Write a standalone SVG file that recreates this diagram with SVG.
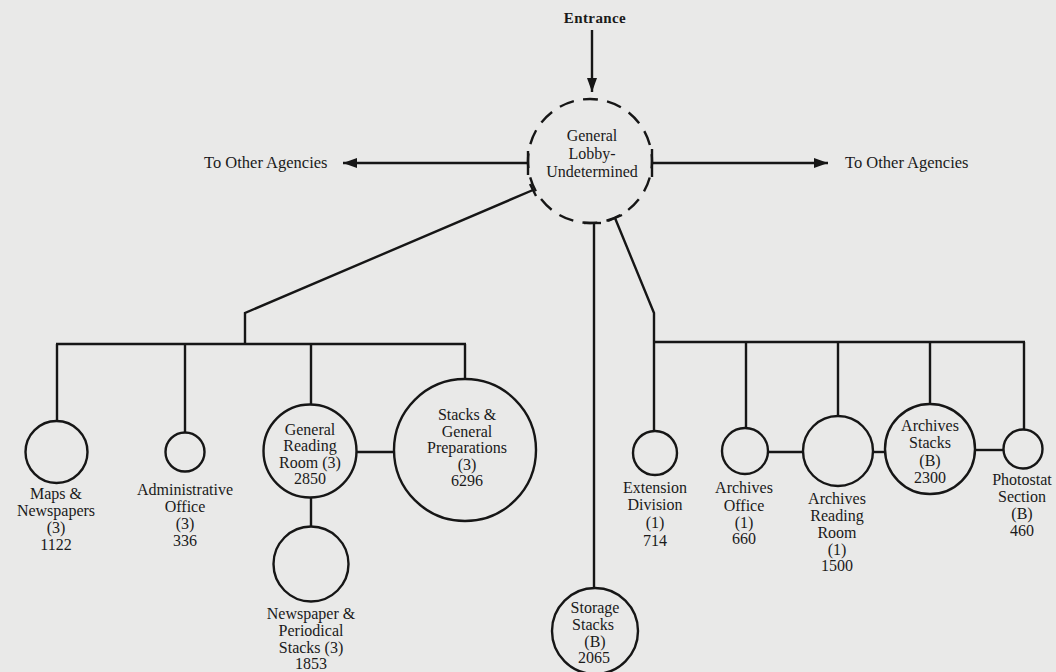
<svg xmlns="http://www.w3.org/2000/svg" width="1056" height="672" viewBox="0 0 1056 672">
<defs>
<style>
.ln{stroke:#161616;stroke-width:2.4;fill:none;stroke-linecap:butt}
.nd{stroke:#161616;stroke-width:2.4;fill:none}
.dash{stroke-dasharray:15 9.35;stroke-dashoffset:7.55}
.t{font-family:"Liberation Serif","Times New Roman",serif;font-size:16px;fill:#1a1a1a;text-anchor:middle}
.b{font-weight:bold;font-size:15px;letter-spacing:0.4px}
.a{font-size:16.5px;text-anchor:start}
</style>
<marker id="arr" markerUnits="userSpaceOnUse" markerWidth="15" markerHeight="11" refX="14" refY="5" orient="auto">
<path d="M0,0 L14,5 L0,10 Z" fill="#161616"/>
</marker>
</defs>
<rect width="1056" height="672" fill="#e9e9e8"/>

<g id="connectors">
<line class="ln" x1="592" y1="30" x2="592" y2="92" marker-end="url(#arr)"/>
<line class="ln" x1="528" y1="163" x2="343" y2="163" marker-end="url(#arr)"/>
<line class="ln" x1="652" y1="163" x2="828" y2="163" marker-end="url(#arr)"/>
<line class="ln" x1="528" y1="151" x2="528" y2="175"/>
<line class="ln" x1="652" y1="149" x2="652" y2="177"/>
<line class="ln" x1="530" y1="184" x2="536" y2="196"/>
<line class="ln" x1="608" y1="221" x2="622" y2="215"/>
<line class="ln" x1="584" y1="223" x2="601" y2="223"/>
<polyline class="ln" points="533,190 245,313 245,344"/>
<line class="ln" x1="56" y1="344" x2="466" y2="344"/>
<line class="ln" x1="57" y1="344" x2="57" y2="421"/>
<line class="ln" x1="185" y1="344" x2="185" y2="432.5"/>
<line class="ln" x1="311" y1="344" x2="311" y2="404.5"/>
<line class="ln" x1="465" y1="344" x2="465" y2="379"/>
<line class="ln" x1="356.5" y1="452" x2="394" y2="452"/>
<line class="ln" x1="311" y1="497.5" x2="311" y2="526.5"/>
<line class="ln" x1="594" y1="223" x2="594" y2="588"/>
<polyline class="ln" points="615,218 654,313 654,431"/>
<line class="ln" x1="653" y1="342" x2="1025" y2="342"/>
<line class="ln" x1="746" y1="342" x2="746" y2="428"/>
<line class="ln" x1="838" y1="342" x2="838" y2="416"/>
<line class="ln" x1="930" y1="342" x2="930" y2="404"/>
<line class="ln" x1="1024" y1="342" x2="1024" y2="429.5"/>
<line class="ln" x1="768" y1="452" x2="803" y2="452"/>
<line class="ln" x1="873" y1="452" x2="885" y2="452"/>
<line class="ln" x1="975" y1="450" x2="1003.5" y2="450"/>
</g>

<g id="entrance"><text class="t b" x="595" y="23">Entrance</text></g>
<g id="agencies-left"><text class="t a" x="204" y="168">To Other Agencies</text></g>
<g id="agencies-right"><text class="t a" x="845" y="168">To Other Agencies</text></g>

<g id="lobby">
<circle class="nd dash" cx="590" cy="161" r="62"/>
<text class="t"><tspan x="592" y="141">General</tspan><tspan x="592" y="159">Lobby-</tspan><tspan x="592" y="177">Undetermined</tspan></text>
</g>

<g id="maps">
<circle class="nd" cx="56.5" cy="452" r="31"/>
<text class="t"><tspan x="56" y="499">Maps &amp;</tspan><tspan x="56" y="516">Newspapers</tspan><tspan x="56" y="533">(3)</tspan><tspan x="56" y="550">1122</tspan></text>
</g>

<g id="admin">
<circle class="nd" cx="185" cy="452" r="19.5"/>
<text class="t"><tspan x="185" y="495">Administrative</tspan><tspan x="185" y="512">Office</tspan><tspan x="185" y="529">(3)</tspan><tspan x="185" y="546">336</tspan></text>
</g>

<g id="general-reading">
<circle class="nd" cx="310" cy="451" r="46.5"/>
<text class="t"><tspan x="310" y="435">General</tspan><tspan x="310" y="451">Reading</tspan><tspan x="310" y="468">Room (3)</tspan><tspan x="310" y="484">2850</tspan></text>
</g>

<g id="newspaper-stacks">
<circle class="nd" cx="311" cy="564" r="37.5"/>
<text class="t"><tspan x="311" y="619">Newspaper &amp;</tspan><tspan x="311" y="636">Periodical</tspan><tspan x="311" y="653">Stacks (3)</tspan><tspan x="311" y="669">1853</tspan></text>
</g>

<g id="stacks-prep">
<circle class="nd" cx="465" cy="450" r="71"/>
<text class="t"><tspan x="467" y="420">Stacks &amp;</tspan><tspan x="467" y="437">General</tspan><tspan x="467" y="453">Preparations</tspan><tspan x="467" y="470">(3)</tspan><tspan x="467" y="486">6296</tspan></text>
</g>

<g id="storage">
<circle class="nd" cx="595" cy="631" r="43"/>
<text class="t"><tspan x="595" y="613">Storage</tspan><tspan x="593" y="630">Stacks</tspan><tspan x="595" y="647">(B)</tspan><tspan x="594" y="663">2065</tspan></text>
</g>

<g id="extension">
<circle class="nd" cx="655" cy="453" r="22"/>
<text class="t"><tspan x="655" y="493">Extension</tspan><tspan x="655" y="510">Division</tspan><tspan x="655" y="528">(1)</tspan><tspan x="655" y="546">714</tspan></text>
</g>

<g id="archives-office">
<circle class="nd" cx="745" cy="451" r="23"/>
<text class="t"><tspan x="744" y="493">Archives</tspan><tspan x="744" y="511">Office</tspan><tspan x="744" y="528">(1)</tspan><tspan x="744" y="544">660</tspan></text>
</g>

<g id="archives-reading">
<circle class="nd" cx="838" cy="451" r="35"/>
<text class="t"><tspan x="837" y="504">Archives</tspan><tspan x="837" y="521">Reading</tspan><tspan x="837" y="538">Room</tspan><tspan x="837" y="555">(1)</tspan><tspan x="837" y="571">1500</tspan></text>
</g>

<g id="archives-stacks">
<circle class="nd" cx="930" cy="449" r="45"/>
<text class="t"><tspan x="930" y="431">Archives</tspan><tspan x="930" y="448">Stacks</tspan><tspan x="930" y="466">(B)</tspan><tspan x="930" y="483">2300</tspan></text>
</g>

<g id="photostat">
<circle class="nd" cx="1023" cy="449" r="19.5"/>
<text class="t"><tspan x="1022" y="485">Photostat</tspan><tspan x="1022" y="502">Section</tspan><tspan x="1022" y="519">(B)</tspan><tspan x="1022" y="536">460</tspan></text>
</g>
</svg>
